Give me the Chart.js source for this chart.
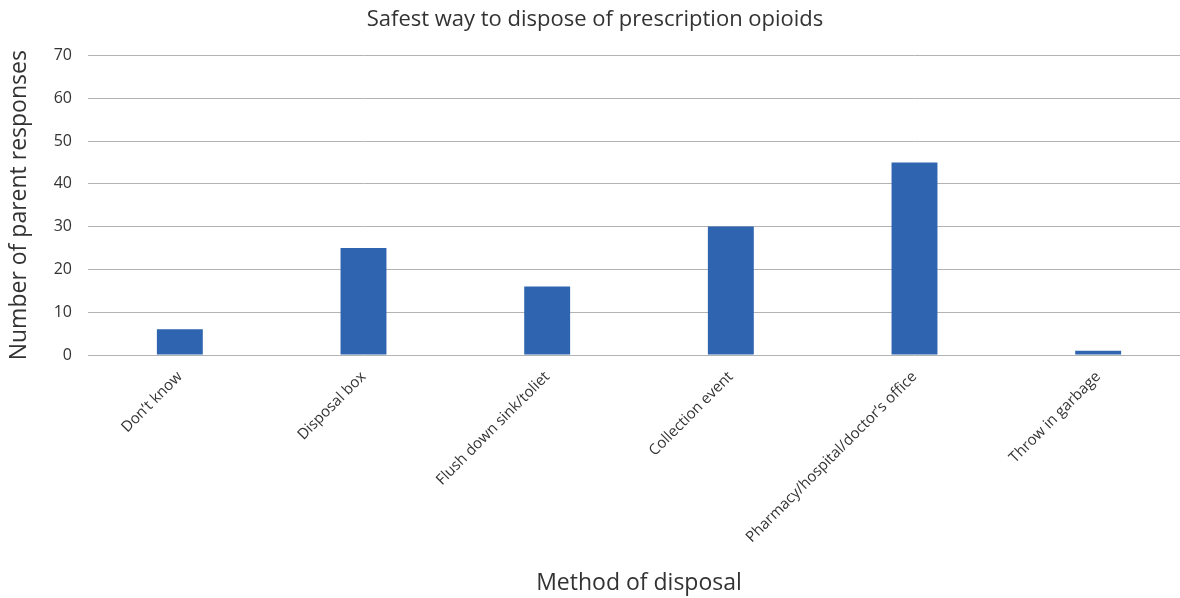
<!DOCTYPE html>
<html>
<head>
<meta charset="utf-8">
<script src="https://cdn.jsdelivr.net/npm/chart.js@4.4.1/dist/chart.umd.min.js"></script>
<style>
  html, body { margin: 0; padding: 0; background: #fff; overflow: hidden; }
  #wrap { width: 1190px; height: 598px; }
</style>
</head>
<body>
<div id="wrap"><canvas id="chart"></canvas></div>
<script>
// Survey answers: safest way to get rid of leftover opioids
const methods = [
  'Don\u2019t know',
  'Disposal box',
  'Flush down sink/toliet',
  'Collection event',
  'Pharmacy/hospital/doctor\u2019s office',
  'Throw in garbage'
];
const responses = [6, 25, 16, 30, 45, 1];
const yTicks = [0, 10, 20, 30, 40, 50, 60, 70];

const fontFamily = '"Open Sans", "Noto Sans", sans-serif';
const textDark = '#333333';

new Chart(document.getElementById('chart'), {
  type: 'bar',
  data: {
    labels: methods,
    datasets: [{
      data: responses,
      backgroundColor: '#2e64b0',
      categoryPercentage: 1,
      barPercentage: 0.25
    }]
  },
  options: {
    responsive: true,
    maintainAspectRatio: false,
    animation: false,
    layout: { padding: 0 },
    plugins: {
      legend: { display: false },
      tooltip: { enabled: false },
      title: {
        display: true,
        text: 'Safest way to dispose of prescription opioids',
        color: textDark,
        font: { family: fontFamily, size: 22, weight: 'normal' },
        padding: { top: 7, bottom: 22 }
      }
    },
    scales: {
      x: {
        afterFit: (scale) => { scale.height = 243; },
        grid: { display: false, drawTicks: false },
        border: { display: false },
        ticks: {
          color: textDark,
          font: { family: fontFamily, size: 15 },
          maxRotation: 45,
          minRotation: 45,
          padding: 13,
          autoSkip: false
        },
        title: {
          display: true,
          text: 'Method of disposal',
          color: textDark,
          font: { family: fontFamily, size: 23 },
          padding: { top: 0, bottom: 1 }
        }
      },
      y: {
        min: 0,
        max: 70,
        afterFit: (scale) => { scale.width = 88; },
        afterBuildTicks: (scale) => { scale.ticks = yTicks.map(v => ({ value: v })); },
        grid: { color: '#b3b3b3', lineWidth: 1, drawTicks: false },
        border: { display: false },
        ticks: {
          color: textDark,
          font: { family: fontFamily, size: 16 },
          padding: 16
        },
        title: {
          display: true,
          text: 'Number of parent responses',
          color: textDark,
          font: { family: fontFamily, size: 23 },
          padding: { top: 6, bottom: 0 }
        }
      }
    }
  }
});
</script>
</body>
</html>
